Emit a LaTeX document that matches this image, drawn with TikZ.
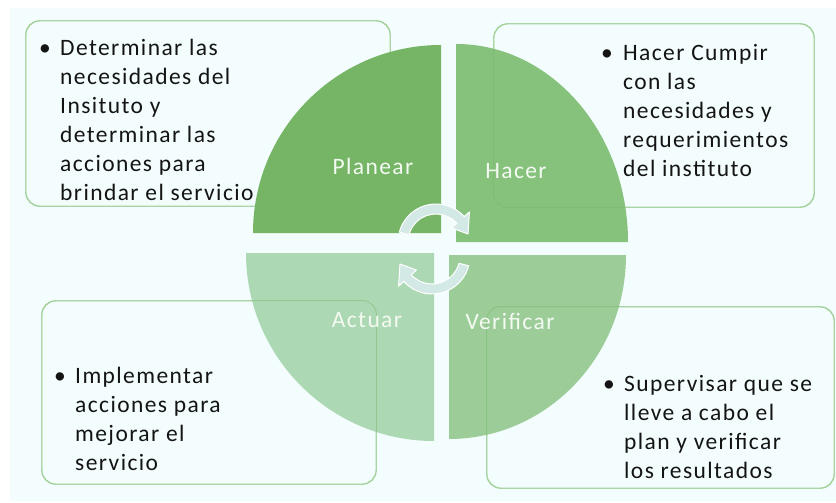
\documentclass[tikz,border=0pt]{standalone}
\usepackage{fontspec}
\setmainfont{Carlito}[LetterSpace=6]
\usetikzlibrary{calc}
\definecolor{bgc}{HTML}{F3FDFD}
\definecolor{boxc}{HTML}{A6D69C}
\definecolor{planc}{HTML}{75B565}
\definecolor{hacc}{HTML}{87C27D}
\definecolor{verc}{HTML}{9CCD98}
\definecolor{actc}{HTML}{ADD8B4}
\definecolor{arrc}{HTML}{D3E9E6}
\definecolor{txtc}{HTML}{141414}
\definecolor{lblc}{HTML}{F4FAF2}
\newcommand{\topstrut}{\rule{0pt}{20pt}}
\tikzset{
  txtbox/.style={draw=boxc, line width=0.9pt, rounded corners=14pt, fill=bgc, inner sep=0pt},
  boxline/.style={draw=planc, line width=0.9pt, rounded corners=14pt, opacity=0.45},
  body/.style={font=\fontsize{23.5}{29}\selectfont, align=left, inner sep=0pt, text=txtc, anchor=north west},
  lbl/.style={font=\fontsize{23.5}{28}\selectfont, inner sep=0pt, text=lblc},
  cyc/.style={fill=arrc, draw=white, line width=1pt, line join=round}
}
\begin{document}
\begin{tikzpicture}[x=1pt,y=-1pt]
\useasboundingbox (0,0) rectangle (836,503);
\fill[white] (0,0) rectangle (836,503);
\fill[bgc] (10,8) rectangle (836,501);

% text boxes
\node[txtbox, minimum width=364pt, minimum height=185pt] (b1) at (208,113.5) {};
\node[txtbox, minimum width=320pt, minimum height=183pt] (b2) at (654,115.5) {};
\node[txtbox, minimum width=334pt, minimum height=183pt] (b3) at (209,392.5) {};
\node[txtbox, minimum width=347pt, minimum height=181pt] (b4) at (660.5,397.5) {};

% texts (first baseline = y + 20)
\node[body] (u1) at (39,35) {\topstrut\textbullet};
\node[body] (t1) at (60,35) {\topstrut Determinar las\\necesidades del\\Insituto y\\determinar las\\acciones para\\brindar el servicio};
\node[body] (u2) at (601,40) {\topstrut\textbullet};
\node[body] (t2) at (623,40) {\topstrut Hacer Cumpir\\con las\\necesidades y\\requerimientos\\del instituto};
\node[body] (u3) at (54,363) {\topstrut\textbullet};
\node[body] (t3) at (75,363) {\topstrut Implementar\\acciones para\\mejorar el\\servicio};
\node[body] (u4) at (603,371) {\topstrut\textbullet};
\node[body] (t4) at (624,371) {\topstrut Supervisar que se\\lleve a cabo el\\plan y verificar\\los resultados};

% quadrants
\fill[planc] (441,233) -- (253,233) arc[start angle=180, end angle=270, radius=188] -- cycle;
\fill[hacc] (456,242) -- (456,44) arc[start angle=270, end angle=360, x radius=172, y radius=198] -- cycle;
\fill[verc] (449,255) -- (626,255) arc[start angle=0, end angle=90, x radius=177, y radius=184] -- cycle;
\fill[actc] (434,253) -- (434,441) arc[start angle=90, end angle=180, radius=188] -- cycle;

% box outlines seen through the quadrants
\draw[boxline] (b1.north west) rectangle (b1.south east);
\draw[boxline] (b2.north west) rectangle (b2.south east);
\draw[boxline] (b3.north west) rectangle (b3.south east);
\draw[boxline] (b4.north west) rectangle (b4.south east);

% labels
\node[lbl] (lp) at (373,166) {Planear};
\node[lbl] (lh) at (516,171) {Hacer};
\node[lbl] (la) at (367,320) {Actuar};
\node[lbl] (lv) at (510,321) {Verificar};

% cycle arrows
\coordinate (cu) at (436,242);
\coordinate (cl) at (432,256);
\path[cyc] ($(cu)+(195:38)$) arc[start angle=195, end angle=318, radius=38]
  -- ($(cu)+(318:45)$) -- ($(cu)+(346:33)$) -- ($(cu)+(318:21)$) -- ($(cu)+(318:28)$)
  arc[start angle=318, end angle=195, radius=28] -- cycle;
\path[cyc] ($(cl)+(15:38)$) arc[start angle=15, end angle=138, radius=38]
  -- ($(cl)+(138:45)$) -- ($(cl)+(166:33)$) -- ($(cl)+(138:21)$) -- ($(cl)+(138:28)$)
  arc[start angle=138, end angle=15, radius=28] -- cycle;
\end{tikzpicture}
\end{document}
